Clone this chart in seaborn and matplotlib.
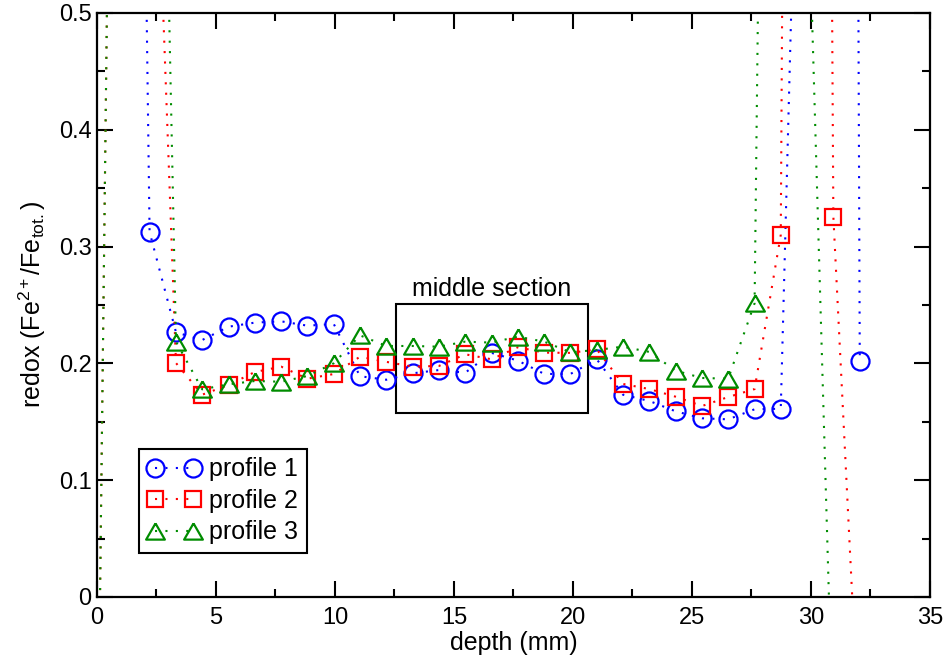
import numpy as np
import pandas as pd
import matplotlib
matplotlib.use("Agg")
import matplotlib.pyplot as plt
import matplotlib.patches as patches
import seaborn as sns

# depth grid (mm) and redox values
depth_p1 = [1.1, 2.21, 3.32, 4.42, 5.53, 6.63, 7.74, 8.84, 9.95, 11.05, 12.16, 13.26, 14.37,
            15.47, 16.58, 17.68, 18.79, 19.89, 21.0, 22.1, 23.21, 24.31, 25.42, 26.52, 27.63,
            28.73, 29.84, 30.94, 32.05]
redox_p1 = [2.0, 0.3125, 0.2266, 0.220, 0.2314, 0.2349, 0.2360, 0.2323, 0.2337, 0.189, 0.186,
            0.1915, 0.1943, 0.192, 0.209, 0.2024, 0.191, 0.1909, 0.2035, 0.1732, 0.1678, 0.159,
            0.153, 0.1521, 0.1607, 0.1612, 1.02, 6.0, 0.202]

depth_p2 = [0.0, 1.1, 2.21, 3.32, 4.42, 5.53, 6.63, 7.74, 8.84, 9.95, 11.05, 12.16, 13.26, 14.37,
            15.47, 16.58, 17.68, 18.79, 19.89, 21.0, 22.1, 23.21, 24.31, 25.42, 26.52, 27.63,
            28.73, 29.84, 30.94, 32.05]
redox_p2 = [-0.22, 1.68, 0.82, 0.2003, 0.1732, 0.1815, 0.1926, 0.1972, 0.1869, 0.1909, 0.2057,
            0.2013, 0.1972, 0.1978, 0.2078, 0.2035, 0.2138, 0.2092, 0.209, 0.212, 0.1824, 0.178,
            0.1715, 0.1635, 0.1712, 0.178, 0.310, 4.0, 0.3256, -0.13]

depth_p3 = [0.0, 1.1, 2.21, 3.32, 4.42, 5.53, 6.63, 7.74, 8.84, 9.95, 11.05, 12.16, 13.26, 14.37,
            15.47, 16.58, 17.68, 18.79, 19.89, 21.0, 22.1, 23.21, 24.31, 25.42, 26.52, 27.63,
            28.73, 29.84, 30.94]
redox_p3 = [-0.22, 1.68, 1.3, 0.2186, 0.1778, 0.1821, 0.1849, 0.1843, 0.1892, 0.2001, 0.224,
            0.2149, 0.2149, 0.2143, 0.2186, 0.2178, 0.2229, 0.2186, 0.2095, 0.2115, 0.2143,
            0.2098, 0.1938, 0.1875, 0.1869, 0.2514, 2.2, 0.64, -0.13]

labels = ["profile 1", "profile 2", "profile 3"]
colors = ["#0000ff", "#ff0000", "#008c00"]

sns.set_theme(style="ticks")
plt.rcParams["font.family"] = ["Liberation Sans", "DejaVu Sans"]
plt.rcParams["mathtext.fontset"] = "custom"
plt.rcParams["mathtext.rm"] = "Liberation Sans"
plt.rcParams["mathtext.it"] = "Liberation Sans:italic"
plt.rcParams["mathtext.default"] = "regular"
plt.rcParams["text.color"] = "black"
plt.rcParams["axes.labelcolor"] = "black"

fig = plt.figure(figsize=(9.48, 6.62), dpi=100)
ax = fig.add_axes([0.1023, 0.0982, 0.8787, 0.8822])

tri = [(0, 0.866), (-1, -0.866), (1, -0.866), (0, 0.866)]
profiles = [(depth_p1, redox_p1, "o", 13), (depth_p2, redox_p2, "s", 11.5), (depth_p3, redox_p3, tri, 13.5)]

for (d, r, m, ms), lab, c in zip(profiles, labels, colors):
    sns.lineplot(x=d, y=r, ax=ax, color=c, marker=m, markersize=ms, markerfacecolor="none",
                 markeredgecolor=c, markeredgewidth=1.6, linewidth=1.5, linestyle=(0, (1, 4)),
                 label=lab, sort=False, estimator=None)

ax.set_xlim(0, 35)
ax.set_ylim(0, 0.5)
ax.set_xticks(np.arange(0, 36, 5))
ax.set_xticks(np.arange(0, 35, 2.5), minor=True)
ax.set_yticks(np.arange(0, 0.51, 0.1))
ax.set_yticks(np.arange(0, 0.5, 0.05), minor=True)
ax.set_yticklabels(["0", "0.1", "0.2", "0.3", "0.4", "0.5"])
ax.tick_params(which="both", direction="in", top=True, right=True, width=1.5, colors="black",
               labelcolor="black", labelsize=17)
ax.tick_params(which="major", length=11.5)
ax.tick_params(which="minor", length=5.5)
ax.tick_params(axis="x", pad=7)
ax.tick_params(axis="y", pad=4)
for s in ax.spines.values():
    s.set_linewidth(1.6)
    s.set_color("black")

ax.set_xlabel("depth (mm)", fontsize=18, labelpad=2, color="black")
ax.set_ylabel("redox (Fe$^{2+}$/Fe$_{tot.}$)", fontsize=18, labelpad=8, color="black")

# middle section box
ax.add_patch(patches.Rectangle((12.55, 0.1573), 8.08, 0.0933, fill=False, edgecolor="black", linewidth=1.5))
ax.text(16.6, 0.2577, "middle section", fontsize=18, ha="center", va="baseline", color="black")

leg = ax.legend(handles=ax.lines[:3], labels=labels, loc="lower left", bbox_to_anchor=(0.0504, 0.0753),
                borderaxespad=0, numpoints=2, fontsize=18, fancybox=False, framealpha=1,
                edgecolor="black", handlelength=2.1, handletextpad=0.35, labelspacing=0.3,
                borderpad=0.35, labelcolor="black")
leg.get_frame().set_linewidth(1.5)

fig.savefig("out.png", dpi=100)
